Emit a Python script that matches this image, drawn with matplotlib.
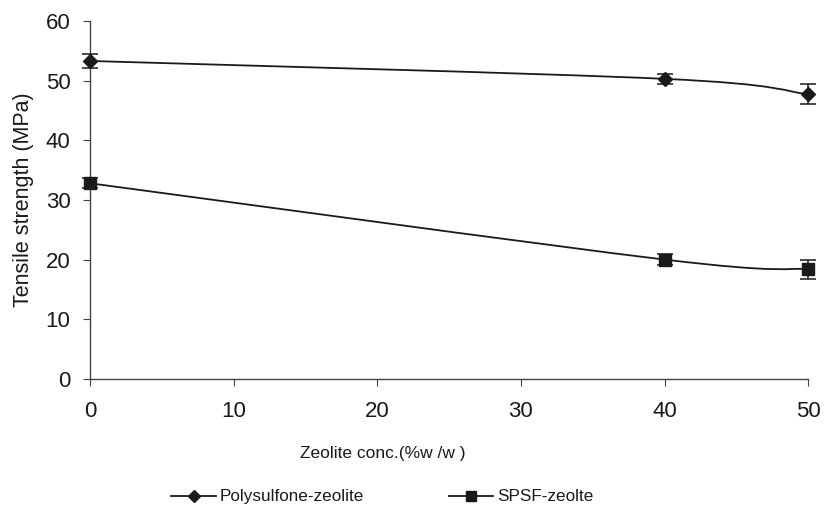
import numpy as np
import matplotlib.pyplot as plt
from matplotlib.path import Path
from matplotlib.patches import PathPatch
from matplotlib.lines import Line2D

plt.rcParams['font.family'] = ['Liberation Sans', 'DejaVu Sans']

zeolite = [0, 40, 50]
psf_strength = [53.3, 50.3, 47.7]
psf_err = [1.2, 0.8, 1.7]
spsf_strength = [32.8, 20.0, 18.4]
spsf_err = [0.8, 0.9, 1.6]

ink = '#1a1a1a'


def smooth_path(x, y):
    # spreadsheet-style smoothed line: cubic Bezier segments with Catmull-Rom tangents
    pts = np.column_stack([x, y]).astype(float)
    n = len(pts)
    verts = [pts[0]]
    codes = [Path.MOVETO]
    for i in range(n - 1):
        p0 = pts[max(i - 1, 0)]
        p1 = pts[i]
        p2 = pts[i + 1]
        p3 = pts[min(i + 2, n - 1)]
        c1 = p1 + (p2 - p0) / 6.0
        c2 = p2 - (p3 - p1) / 6.0
        verts += [c1, c2, p2]
        codes += [Path.CURVE4] * 3
    return Path(verts, codes)


fig = plt.figure(figsize=(8.24, 5.12), dpi=100)
ax = fig.add_axes([0.109, 0.26, 0.872, 0.699])

for yv, err, mk, ms in [(psf_strength, psf_err, 'D', 7), (spsf_strength, spsf_err, 's', 8)]:
    ax.add_patch(PathPatch(smooth_path(zeolite, yv), fill=False, edgecolor=ink, lw=1.3))
    ax.errorbar(zeolite, yv, yerr=err, fmt=mk, color=ink, markersize=ms,
                capsize=6, elinewidth=1.1, capthick=1.1, clip_on=False, zorder=3)

ax.set_xlim(0, 50)
ax.set_ylim(0, 60)
ax.set_xticks(np.arange(0, 51, 10))
ax.set_yticks(np.arange(0, 61, 10))
for s in ['top', 'right']:
    ax.spines[s].set_visible(False)
for s in ['left', 'bottom']:
    ax.spines[s].set_color('#444444')
    ax.spines[s].set_linewidth(1.0)
ax.tick_params(axis='both', colors='#444444', labelcolor=ink, labelsize=16, length=5)
ax.tick_params(axis='x', pad=11)
ax.tick_params(axis='y', pad=9)

ax.set_xlabel('Zeolite conc.(%w /w )', fontsize=12.5, color=ink)
ax.xaxis.set_label_coords(0.407, -0.188)
ax.set_ylabel('Tensile strength (MPa)', fontsize=15.5, color=ink, labelpad=8)

handles = [Line2D([], [], color=ink, lw=1.3, marker='D', markersize=6),
           Line2D([], [], color=ink, lw=1.3, marker='s', markersize=7)]
ax.legend(handles, ['Polysulfone-zeolite', 'SPSF-zeolte'], loc='center',
          bbox_to_anchor=(0.407, -0.33), ncol=2, frameon=False, fontsize=12.3,
          columnspacing=5.0, handlelength=2.6, handletextpad=0.2, labelcolor=ink)

fig.savefig('out.png', dpi=100)
